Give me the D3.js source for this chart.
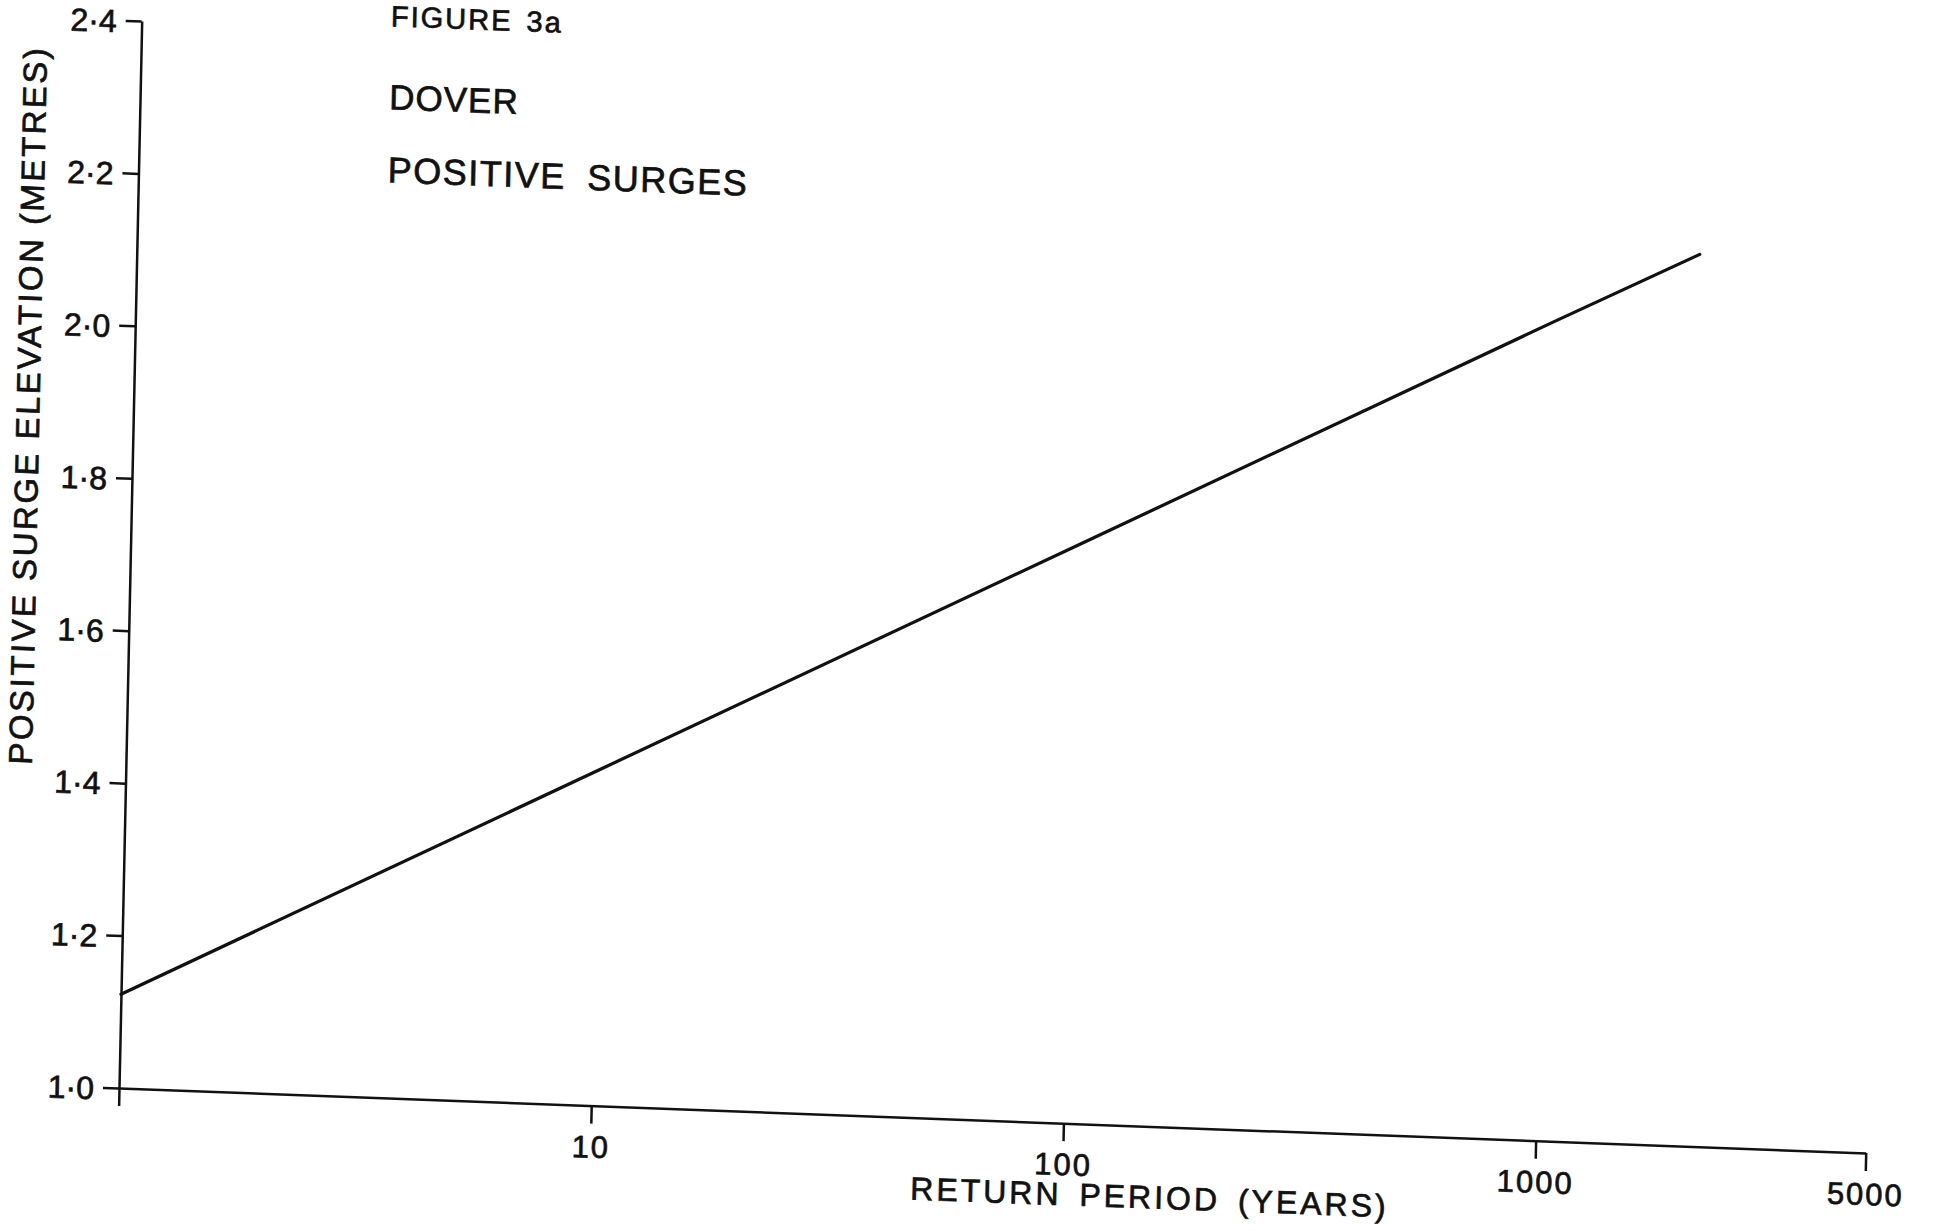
<!DOCTYPE html>
<html>
<head>
<meta charset="utf-8">
<script src="https://cdn.jsdelivr.net/npm/d3@7"></script>
<style>
  body { margin: 0; background: #fff; }
  svg text { font-family: "Liberation Sans", Arial, sans-serif; fill: #111; stroke: #111; stroke-width: 0.7px; }
</style>
</head>
<body>
<svg id="chart"></svg>
<script>
// values
const returnPeriod = [1, 10, 100, 1000, 2030];          // years
const surgeElevation = [1.123, 1.44, 1.757, 2.074, 2.17]; // metres

const xTicks = [1, 10, 100, 1000, 5000];
const xTickLabels = ['', '10', '100', '1000', '5000'];
const yTicks = [1.0, 1.2, 1.4, 1.6, 1.8, 2.0, 2.2, 2.4];
const yTickLabels = ['1·0', '1·2', '1·4', '1·6', '1·8', '2·0', '2·2', '2·4'];

const titleLines = ['FIGURE 3a', 'DOVER', 'POSITIVE SURGES'];
const xTitle = 'RETURN PERIOD (YEARS)';
const yTitle = 'POSITIVE SURGE ELEVATION (METRES)';

const config = {
  width: 1936,
  height: 1231,
  plotW: 1746.7,
  plotH: 1067,
  // the scan is slightly skewed, so the whole plot frame is too
  skew: [1, 0.03721, -0.02127, 1, 141.7, 21]
};

const svg = d3.select('#chart')
  .attr('width', config.width)
  .attr('height', config.height);

svg.append('rect')
  .attr('width', config.width)
  .attr('height', config.height)
  .attr('fill', '#fff');

const g = svg.append('g')
  .attr('transform', `matrix(${config.skew.join(',')})`);

const x = d3.scaleLog()
  .domain([1, 5000])
  .range([0, config.plotW]);

const y = d3.scaleLinear()
  .domain([1.0, 2.4])
  .range([config.plotH, 0]);

// x axis
const xAxis = d3.axisBottom(x)
  .tickValues(xTicks)
  .tickFormat((d, i) => xTickLabels[i])
  .tickSize(18)
  .tickSizeOuter(0)
  .tickPadding(12);

const xAxisG = g.append('g')
  .attr('class', 'x-axis')
  .attr('transform', `translate(0,${config.plotH})`)
  .call(xAxis);

// y axis
const yAxis = d3.axisLeft(y)
  .tickValues(yTicks)
  .tickFormat((d, i) => yTickLabels[i])
  .tickSize(16)
  .tickSizeOuter(0)
  .tickPadding(9);

const yAxisG = g.append('g')
  .attr('class', 'y-axis')
  .call(yAxis);

[xAxisG, yAxisG].forEach(a => {
  a.attr('font-family', null).attr('font-size', null);
  a.select('.domain').attr('stroke', '#111').attr('stroke-width', 2.5);
  a.selectAll('.tick line').attr('stroke', '#111').attr('stroke-width', 2.5);
  a.selectAll('.tick text').style('fill', '#111');
});

xAxisG.selectAll('.tick text')
  .style('font-size', '31px')
  .style('letter-spacing', '2px');

yAxisG.selectAll('.tick text')
  .style('font-size', '32px')
  .attr('dy', '0.36em');

// the surge line
const points = returnPeriod.map((d, i) => [d, surgeElevation[i]]);

g.append('path')
  .datum(points)
  .attr('fill', 'none')
  .attr('stroke', '#111')
  .attr('stroke-width', 3.2)
  .attr('stroke-linecap', 'round')
  .attr('d', d3.line()
    .x(d => x(d[0]))
    .y(d => y(d[1])));

// axis titles
g.append('text')
  .attr('x', 1032)
  .attr('y', config.plotH + 82)
  .attr('text-anchor', 'middle')
  .style('font-size', '32px')
  .style('letter-spacing', '3px')
  .style('word-spacing', '6px')
  .text(xTitle);

g.append('text')
  .attr('transform', `translate(-94,388) rotate(-90)`)
  .attr('text-anchor', 'middle')
  .style('font-size', '33px')
  .style('letter-spacing', '2.5px')
  .text(yTitle);

// title block
const titleStyle = [
  { y: -4, size: 29, ls: 2, ws: 4 },
  { y: 79, size: 35, ls: 1, ws: 0 },
  { y: 152, size: 36, ls: 1.5, ws: 10 }
];

g.selectAll('.title')
  .data(titleLines)
  .join('text')
  .attr('class', 'title')
  .attr('x', 249)
  .attr('y', (d, i) => titleStyle[i].y)
  .style('font-size', (d, i) => titleStyle[i].size + 'px')
  .style('letter-spacing', (d, i) => titleStyle[i].ls + 'px')
  .style('word-spacing', (d, i) => titleStyle[i].ws + 'px')
  .text(d => d);
</script>
</body>
</html>
